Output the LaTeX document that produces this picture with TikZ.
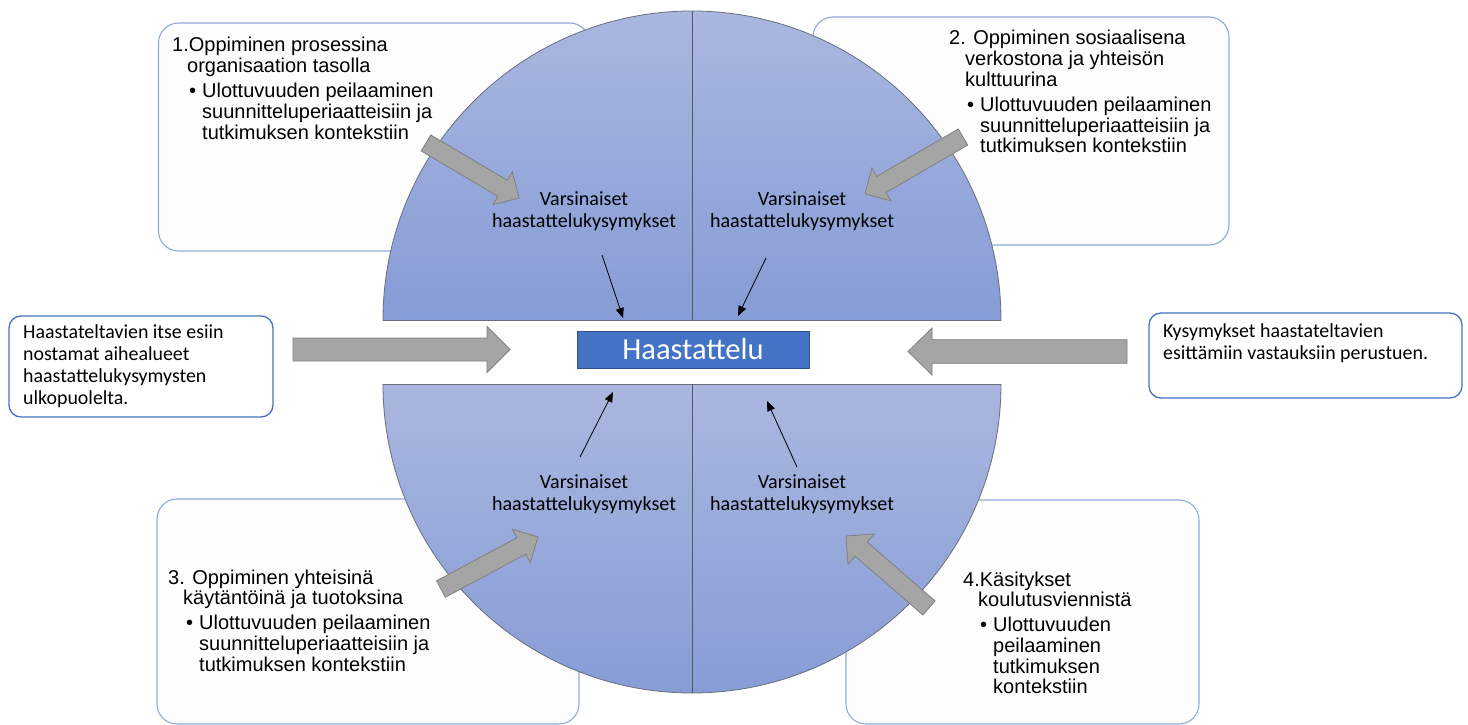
\documentclass[tikz,border=0pt]{standalone}
\usepackage{fontspec}
\setmainfont{Liberation Sans}
\newfontfamily\calib{Carlito}
\usetikzlibrary{calc,arrows.meta}
\definecolor{boxfill}{RGB}{253,253,253}
\definecolor{boxline}{RGB}{143,170,220}
\definecolor{sideline}{RGB}{68,114,196}
\definecolor{circtop}{RGB}{170,183,223}
\definecolor{circbot}{RGB}{134,156,214}
\definecolor{circline}{RGB}{105,110,125}
\definecolor{haastfill}{RGB}{68,114,196}
\definecolor{haastline}{RGB}{47,82,143}
\definecolor{arrfill}{RGB}{165,165,165}
\definecolor{arrline}{RGB}{127,127,127}
\tikzset{
  infobox/.style={draw=boxline, fill=boxfill, line width=1.1pt, rounded corners=20pt, inner sep=0pt},
  sidebox/.style={draw=sideline, fill=white, line width=1.3pt, rounded corners=12pt, inner sep=0pt},
  halfborder/.style={draw=circline, line width=0.8pt},
  divider/.style={draw=circline!80!black, line width=1pt},
  blockarrow/.style={fill=arrfill, draw=arrline, line width=0.8pt, line join=miter},
  thinarrow/.style={draw=black, line width=0.8pt, -{Triangle[length=10pt,width=8pt]}},
  arialtxt/.style={anchor=base west, inner sep=0pt, font=\fontsize{20}{20.4}\selectfont},
  calibtxt/.style={inner sep=0pt, font=\calib\fontsize{19.9}{22.3}\selectfont},
}
% tail, tip, shaft half width, head half width, head length
\newcommand{\blockarr}[5]{%
  \path ($(#2)!#5!(#1)$) coordinate (hbase);
  \draw[blockarrow] ($(#1)!#3!90:(#2)$) -- ($(hbase)!#3!90:(#2)$) -- ($(hbase)!#4!90:(#2)$)
    -- (#2) -- ($(hbase)!#4!-90:(#2)$) -- ($(hbase)!#3!-90:(#2)$) -- ($(#1)!#3!-90:(#2)$) -- cycle;
}
\begin{document}
\begin{tikzpicture}[x=1pt,y=-1pt]
\useasboundingbox (0,0) rectangle (1468,725);
\fill[white] (0,0) rectangle (1468,725);

% info boxes (behind circle)
\node[infobox, minimum width=431pt, minimum height=228pt] (b1) at (374,137) {};
\node[infobox, minimum width=416pt, minimum height=228pt] (b2) at (1021,131) {};
\node[infobox, minimum width=422pt, minimum height=225pt] (b3) at (368,611.5) {};
\node[infobox, minimum width=353pt, minimum height=224pt] (b4) at (1022.5,612) {};

% top half of circle
\begin{scope}
  \clip (692,320) circle[radius=309pt];
  \shade[top color=circtop, bottom color=circbot] (380,8) rectangle (1004,320);
\end{scope}
\begin{scope}
  \clip (370,0) rectangle (1010,320);
  \draw[halfborder] (692,320) circle[radius=309pt];
\end{scope}
\draw[halfborder] (383,320) -- (1001,320);
\draw[divider] (692,11) -- (692,320);

% bottom half of circle
\begin{scope}
  \clip (692,384) circle[radius=309pt];
  \shade[top color=circtop, bottom color=circbot] (380,384) rectangle (1004,696);
\end{scope}
\begin{scope}
  \clip (370,384) rectangle (1010,725);
  \draw[halfborder] (692,384) circle[radius=309pt];
\end{scope}
\draw[halfborder] (383,384) -- (1001,384);
\draw[divider] (692,384) -- (692,693);

% side boxes
\node[sidebox, minimum width=264pt, minimum height=101pt] (sl) at (141,366.5) {};
\node[sidebox, minimum width=313pt, minimum height=85pt] (sr) at (1305.5,355.5) {};

% central box
\node[fill=haastfill, draw=haastline, line width=0.8pt, minimum width=232pt, minimum height=37pt, inner sep=0pt,
      text=white, font=\calib\fontsize{30.5}{32}\selectfont] (h) at (693,349.5) {Haastattelu};

% block arrows
\coordinate (k1t) at (426,143);  \coordinate (k1p) at (519,198);
\coordinate (k2t) at (963,137);  \coordinate (k2p) at (865,194);
\coordinate (k3t) at (441,589);  \coordinate (k3p) at (538,537);
\coordinate (k4t) at (929,608);  \coordinate (k4p) at (846,536);
\coordinate (klt) at (293,349.5); \coordinate (klp) at (510,349.5);
\coordinate (krt) at (1127,351.5); \coordinate (krp) at (908,351.5);
\blockarr{k1t}{k1p}{9.3pt}{19pt}{19pt}
\blockarr{k2t}{k2p}{9.3pt}{19pt}{19pt}
\blockarr{k3t}{k3p}{9.3pt}{19pt}{19pt}
\blockarr{k4t}{k4p}{9.3pt}{20pt}{20pt}
\blockarr{klt}{klp}{11.5pt}{23pt}{23pt}
\blockarr{krt}{krp}{11.8pt}{23.5pt}{24pt}

% thin arrows
\coordinate (a1s) at (602,255); \coordinate (a1e) at (623,318);
\coordinate (a2s) at (766,258); \coordinate (a2e) at (738,316);
\coordinate (a3s) at (580,457); \coordinate (a3e) at (613,392);
\coordinate (a4s) at (797,467); \coordinate (a4e) at (767,401);
\draw[thinarrow] (a1s) -- (a1e);
\draw[thinarrow] (a2s) -- (a2e);
\draw[thinarrow] (a3s) -- (a3e);
\draw[thinarrow] (a4s) -- (a4e);

% Varsinaiset labels
\tikzset{varsin/.style={calibtxt, anchor=base, font=\calib\fontsize{20.1}{22}\selectfont}}
\node[varsin] (v1) at (584,205) {\begin{tabular}[t]{@{}c@{}}Varsinaiset\\haastattelukysymykset\end{tabular}};
\node[varsin] (v2) at (802,205) {\begin{tabular}[t]{@{}c@{}}Varsinaiset\\haastattelukysymykset\end{tabular}};
\node[varsin] (v3) at (584,488) {\begin{tabular}[t]{@{}c@{}}Varsinaiset\\haastattelukysymykset\end{tabular}};
\node[varsin] (v4) at (802,488) {\begin{tabular}[t]{@{}c@{}}Varsinaiset\\haastattelukysymykset\end{tabular}};

% side box texts
\node[calibtxt, anchor=base west] (slt) at (23,338) {\begin{tabular}[t]{@{}l@{}}Haastateltavien itse esiin\\nostamat aihealueet\\haastattelukysymysten\\ulkopuolelta.\end{tabular}};
\node[calibtxt, anchor=base west, font=\calib\fontsize{19.9}{22}\selectfont] (srt) at (1163,337) {\begin{tabular}[t]{@{}l@{}}Kysymykset haastateltavien\\esittämiin vastauksiin perustuen.\end{tabular}};

% info box texts
\node[arialtxt] (t1) at (172,52) {\begin{tabular}[t]{@{}l@{}}1.Oppiminen prosessina\\
\hspace*{15pt}organisaation tasolla\\[4.6pt]
\hspace*{17pt}\makebox[13pt][l]{\textbullet}Ulottuvuuden peilaaminen\\
\hspace*{30pt}suunnitteluperiaatteisiin ja\\
\hspace*{30pt}tutkimuksen kontekstiin\end{tabular}};

\node[arialtxt] (t2) at (949,45) {\begin{tabular}[t]{@{}l@{}}2. Oppiminen sosiaalisena\\
\hspace*{16pt}verkostona ja yhteisön\\
\hspace*{16pt}kulttuurina\\[4.6pt]
\hspace*{18pt}\makebox[13pt][l]{\textbullet}Ulottuvuuden peilaaminen\\
\hspace*{31pt}suunnitteluperiaatteisiin ja\\
\hspace*{31pt}tutkimuksen kontekstiin\end{tabular}};

\node[arialtxt] (t3) at (168,584) {\begin{tabular}[t]{@{}l@{}}3. Oppiminen yhteisinä\\
\hspace*{15pt}käytäntöinä ja tuotoksina\\[4.6pt]
\hspace*{18pt}\makebox[13pt][l]{\textbullet}Ulottuvuuden peilaaminen\\
\hspace*{31pt}suunnitteluperiaatteisiin ja\\
\hspace*{31pt}tutkimuksen kontekstiin\end{tabular}};

\node[arialtxt] (t4) at (963,586) {\begin{tabular}[t]{@{}l@{}}4.Käsitykset\\
\hspace*{15pt}koulutusviennistä\\[4.6pt]
\hspace*{17pt}\makebox[13pt][l]{\textbullet}Ulottuvuuden\\
\hspace*{30pt}peilaaminen\\
\hspace*{30pt}tutkimuksen\\
\hspace*{30pt}kontekstiin\end{tabular}};
\end{tikzpicture}
\end{document}
